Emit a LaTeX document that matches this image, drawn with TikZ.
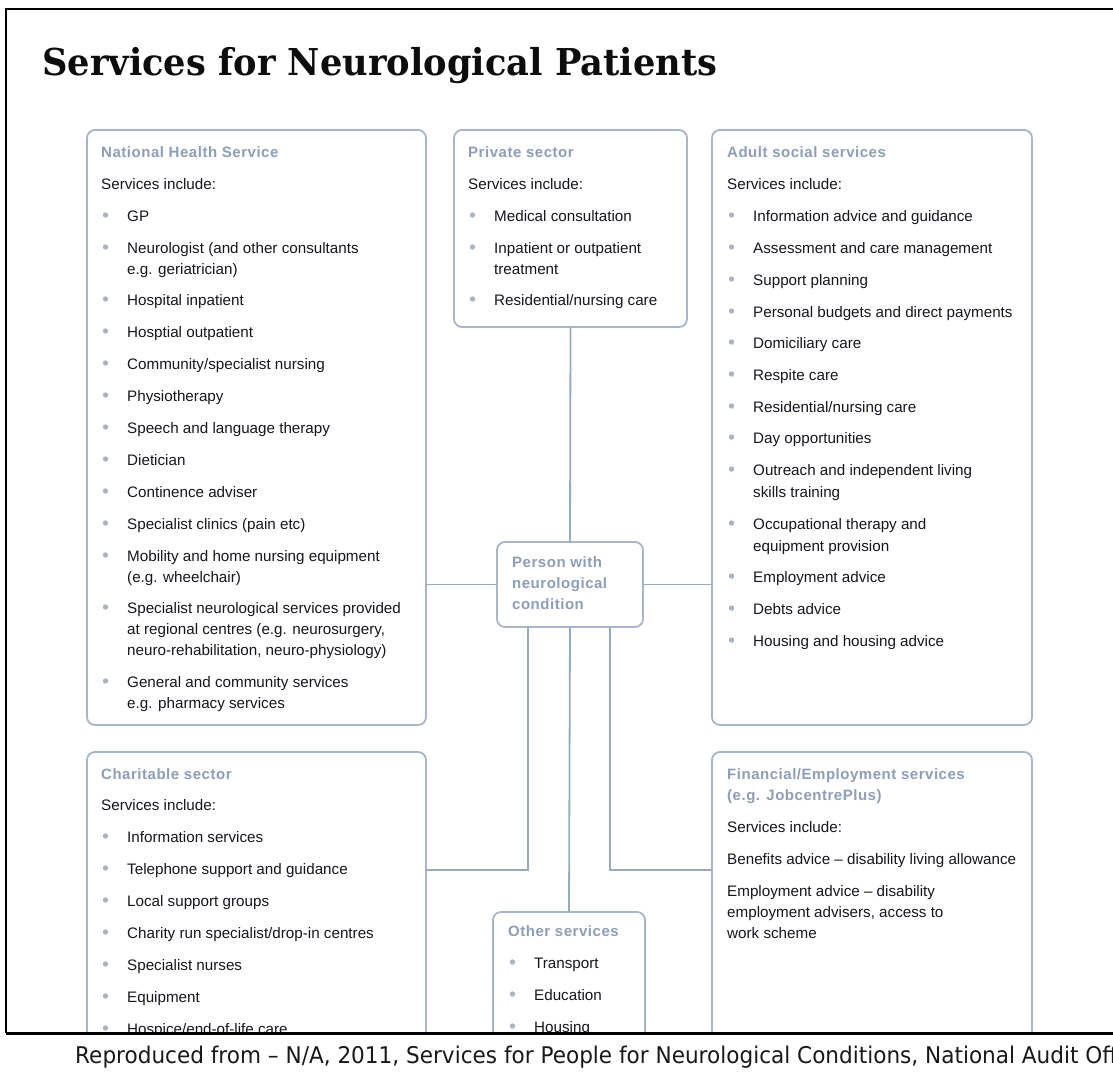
\documentclass[tikz,border=0pt]{standalone}
\usepackage{fontspec}
\usepackage{graphicx}
\setmainfont{Liberation Sans}
\newfontfamily\titlefont{DejaVu Serif}
\newfontfamily\footfont{DejaVu Sans}
\newfontfamily\hdfont{Liberation Sans}[LetterSpace=3.5]
\definecolor{boxc}{HTML}{A9B6C7}
\definecolor{linec}{HTML}{9AAABE}
\definecolor{hdc}{HTML}{8E9EB6}
\definecolor{txtc}{HTML}{16161F}
\definecolor{bulc}{HTML}{A9B4C3}
\newcounter{tn}
\newcommand\HD[3]{\stepcounter{tn}\node[hdtxt] (h\arabic{tn}) at ({#1},{#2}) {#3};}
\newcommand\TX[3]{\stepcounter{tn}\node[bdtxt] (t\arabic{tn}) at ({#1},{#2}) {#3};}
\newcommand\BI[3]{\fill[bulc] ({#1+4.5},{#2-6}) circle (2.7pt); \TX{#1+26}{#2}{#3}}
\newlength\footw
\begin{document}
\settowidth\footw{\footfont\fontsize{23}{26}\selectfont Reproduced from – N/A, 2011, Services for People for Neurological Conditions, National Audit Off}%
\begin{tikzpicture}[x=1pt,y=-1pt,
  box/.style={draw=boxc, line width=1.8pt, rounded corners=8pt, fill=white, inner sep=0pt, outer sep=0pt, anchor=north west},
  conn/.style={draw=linec, line width=1.8pt},
  hdtxt/.style={anchor=base west, inner sep=0pt, text=hdc, font=\hdfont\bfseries\fontsize{15}{18}\selectfont},
  bdtxt/.style={anchor=base west, inner sep=0pt, text=txtc, font=\fontsize{15.2}{18}\selectfont}]
\useasboundingbox (0,0) rectangle (1113,1079);
\fill[white] (0,0) rectangle (1113,1079);
% frame
\draw[black, line width=1.6pt] (1130,9) -- (6,9) -- (6,1033);
\draw[black, line width=3pt] (6,1033) -- (1130,1033);
% title
\node[anchor=base west, inner sep=0pt, text=black!95] (title) at (42,75)
  {\resizebox{675pt}{\height}{\titlefont\bfseries\fontsize{37}{42}\selectfont Services for Neurological Patients}};
\begin{scope}
\clip (8,10) rectangle (1113,1031.5);
% boxes
\node[box, minimum width=339pt, minimum height=595pt] (nhs) at (87,130) {};
\node[box, minimum width=233pt, minimum height=197pt] (priv) at (454,130) {};
\node[box, minimum width=320pt, minimum height=595pt] (adult) at (712,130) {};
\node[box, minimum width=146pt, minimum height=85pt] (person) at (497,542) {};
\node[box, minimum width=339pt, minimum height=320pt] (charit) at (87,752) {};
\node[box, minimum width=152pt, minimum height=200pt] (other) at (493,912) {};
\node[box, minimum width=320pt, minimum height=320pt] (fin) at (712,752) {};
% connectors
\draw[conn] (priv.south) -- (person.north);
\draw[conn] (person.west) -- (person.west -| nhs.east);
\draw[conn] (person.east) -- (person.east -| adult.west);
\draw[conn] ([xshift=-42pt]person.south) |- ([yshift=-118pt]charit.north east);
\draw[conn] (person.south) -- (other.north);
\draw[conn] ([xshift=40pt]person.south) |- ([yshift=-118pt]fin.north west);
% NHS
\HD{101}{157}{National Health Service}
\TX{101}{189}{Services include:}
\BI{101}{221}{GP}
\BI{101}{253}{Neurologist (and other consultants}
\TX{127}{274}{e.g. geriatrician)}
\BI{101}{305}{Hospital inpatient}
\BI{101}{337}{Hosptial outpatient}
\BI{101}{369}{Community/specialist nursing}
\BI{101}{401}{Physiotherapy}
\BI{101}{433}{Speech and language therapy}
\BI{101}{465}{Dietician}
\BI{101}{497}{Continence adviser}
\BI{101}{529}{Specialist clinics (pain etc)}
\BI{101}{561}{Mobility and home nursing equipment}
\TX{127}{582}{(e.g. wheelchair)}
\BI{101}{613}{Specialist neurological services provided}
\TX{127}{634}{at regional centres (e.g. neurosurgery,}
\TX{127}{655}{neuro-rehabilitation, neuro-physiology)}
\BI{101}{687}{General and community services}
\TX{127}{708}{e.g. pharmacy services}
% Private
\HD{468}{157}{Private sector}
\TX{468}{189}{Services include:}
\BI{468}{221}{Medical consultation}
\BI{468}{253}{Inpatient or outpatient}
\TX{494}{274}{treatment}
\BI{468}{305}{Residential/nursing care}
% Adult
\HD{727}{157}{Adult social services}
\TX{727}{189}{Services include:}
\BI{727}{221}{Information advice and guidance}
\BI{727}{253}{Assessment and care management}
\BI{727}{285}{Support planning}
\BI{727}{317}{Personal budgets and direct payments}
\BI{727}{348}{Domiciliary care}
\BI{727}{380}{Respite care}
\BI{727}{412}{Residential/nursing care}
\BI{727}{443}{Day opportunities}
\BI{727}{475}{Outreach and independent living}
\TX{753}{497}{skills training}
\BI{727}{529}{Occupational therapy and}
\TX{753}{551}{equipment provision}
\BI{727}{582}{Employment advice}
\BI{727}{614}{Debts advice}
\BI{727}{646}{Housing and housing advice}
% Person
\HD{512}{567}{Person with}
\HD{512}{588}{neurological}
\HD{512}{609}{condition}
% Charitable
\HD{101}{779}{Charitable sector}
\TX{101}{810}{Services include:}
\BI{101}{842}{Information services}
\BI{101}{874}{Telephone support and guidance}
\BI{101}{906}{Local support groups}
\BI{101}{938}{Charity run specialist/drop-in centres}
\BI{101}{970}{Specialist nurses}
\BI{101}{1002}{Equipment}
\BI{101}{1034}{Hospice/end-of-life care}
% Other
\HD{508}{936}{Other services}
\BI{508}{968}{Transport}
\BI{508}{1000}{Education}
\BI{508}{1032}{Housing}
% Financial
\HD{727}{779}{Financial/Employment services}
\HD{727}{800}{(e.g. JobcentrePlus)}
\TX{727}{832}{Services include:}
\TX{727}{864}{Benefits advice – disability living allowance}
\TX{727}{896}{Employment advice – disability}
\TX{727}{917}{employment advisers, access to}
\TX{727}{938}{work scheme}
\end{scope}
% footer
\pgfmathsetmacro\fsx{1042/\footw}
\node[anchor=base west, inner sep=0pt, text=black!90] (foot) at (75,1063)
  {\scalebox{\fsx}[1]{\footfont\fontsize{23}{26}\selectfont Reproduced from – N/A, 2011, Services for People for Neurological Conditions, National Audit Office}};
\end{tikzpicture}
\end{document}
